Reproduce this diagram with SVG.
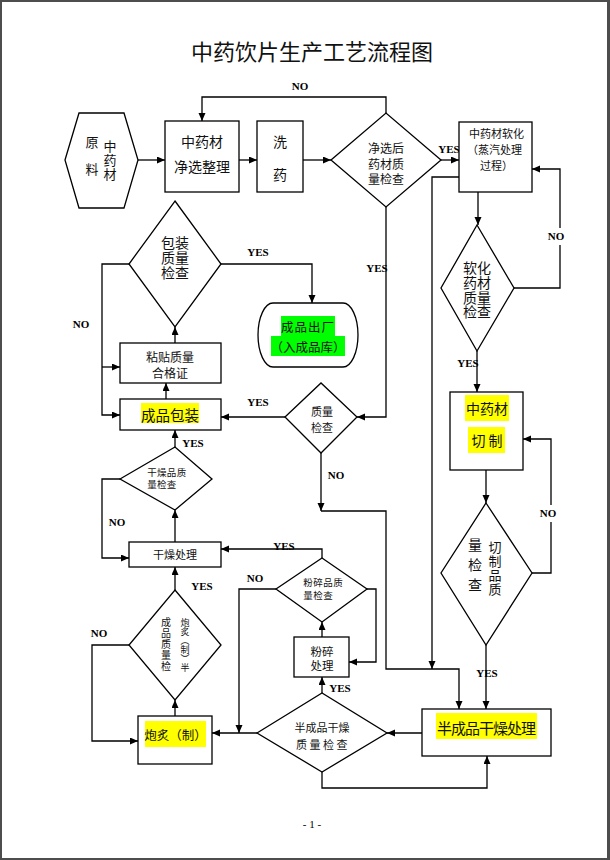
<svg xmlns="http://www.w3.org/2000/svg" width="610" height="860" viewBox="0 0 610 860">
<style>
.cn{font-family:"Noto Sans CJK SC","Noto Sans CJK JP",sans-serif;fill:#111;}
.c{text-anchor:middle;dominant-baseline:central;}
.s{dominant-baseline:central;}
.v{writing-mode:vertical-rl;text-anchor:middle;}
.lb{font-family:"Liberation Serif",serif;font-weight:bold;font-size:11px;fill:#000;text-anchor:middle;dominant-baseline:central;}
.sh{fill:#fff;stroke:#000;stroke-width:1.3;}
.ln{fill:none;stroke:#000;stroke-width:1.3;}
.ar{marker-end:url(#a);}
</style>
<defs>
<marker id="a" markerUnits="userSpaceOnUse" markerWidth="9" markerHeight="8" refX="8" refY="3.5" orient="auto">
<path d="M0,0 L8,3.5 L0,7 z" fill="#000"/>
</marker>
</defs>
<rect width="610" height="860" fill="#fff"/>
<g id="frame" fill="#4d4d4d">
<rect x="0" y="0" width="610" height="2"/>
<rect x="0" y="0" width="2" height="860"/>
<rect x="607" y="0" width="3" height="860"/>
<rect x="0" y="858" width="610" height="2"/>
</g>
<text class="cn c" x="312" y="50" font-size="22">中药饮片生产工艺流程图</text>

<g id="connectors">
<path class="ln ar" d="M138,160 H165"/>
<path class="ln ar" d="M239,160 H257"/>
<path class="ln ar" d="M303,160 H331"/>
<path class="ln ar" d="M386,113 V97 H202 V121"/>
<path class="ln ar" d="M441,160 H459"/>
<path class="ln ar" d="M478,192 V225"/>
<path class="ln ar" d="M514,288 H560 V169 H532"/>
<path class="ln ar" d="M459,177 H432 V669"/>
<path class="ln ar" d="M477,351 V392"/>
<path class="ln ar" d="M486,470 V503"/>
<path class="ln ar" d="M532,573 H551 V439 H523"/>
<path class="ln ar" d="M486,645 V709"/>
<path class="ln ar" d="M386,207 V417 H357"/>
<path class="ln ar" d="M285,417 H221"/>
<path class="ln ar" d="M321,453 V511"/>
<path class="ln ar" d="M321,511 H386 V669 H459 V709"/>
<path class="ln ar" d="M166,399 V383"/>
<path class="ln ar" d="M175,343 V327"/>
<path class="ln ar" d="M221,264 H312 V303"/>
<path class="ln ar" d="M129,264 H102 V415 H120"/>
<path class="ln ar" d="M102,367 H120"/>
<path class="ln ar" d="M175,447 V430"/>
<path class="ln ar" d="M175,542 V510"/>
<path class="ln ar" d="M120,479 H102 V558 H129"/>
<path class="ln ar" d="M322,558 V549 H221"/>
<path class="ln ar" d="M276,589 H239 V733"/>
<path class="ln ar" d="M367,589 H376 V662 H349"/>
<path class="ln ar" d="M322,637 V622"/>
<path class="ln ar" d="M322,693 V677"/>
<path class="ln ar" d="M422,733 H387"/>
<path class="ln ar" d="M257,733 H212"/>
<path class="ln ar" d="M322,772 V788 H487 V756"/>
<path class="ln ar" d="M175,716 V700"/>
<path class="ln ar" d="M175,590 V567"/>
<path class="ln ar" d="M129,645 H92 V741 H138"/>
</g>

<g id="labels">
<text class="lb" x="300" y="86">NO</text>
<text class="lb" x="449" y="149">YES</text>
<rect x="547" y="228" width="18" height="17" fill="#fff"/>
<text class="lb" x="556" y="236">NO</text>
<text class="lb" x="377" y="268">YES</text>
<text class="lb" x="258" y="252">YES</text>
<text class="lb" x="81" y="324">NO</text>
<text class="lb" x="258" y="402">YES</text>
<text class="lb" x="468" y="363">YES</text>
<text class="lb" x="193" y="443">YES</text>
<text class="lb" x="336" y="475">NO</text>
<text class="lb" x="117" y="522">NO</text>
<rect x="540" y="505" width="18" height="17" fill="#fff"/>
<text class="lb" x="548" y="513">NO</text>
<text class="lb" x="284" y="546">YES</text>
<text class="lb" x="255" y="578">NO</text>
<text class="lb" x="202" y="586">YES</text>
<text class="lb" x="99" y="633">NO</text>
<text class="lb" x="340" y="688">YES</text>
<text class="lb" x="487" y="673">YES</text>
</g>

<g id="n-raw">
<polygon class="sh" points="65,160 79,113 124,113 138,160 124,208 79,208"/>
<text class="cn v" x="92" y="163" font-size="13" letter-spacing="14">原料</text>
<text class="cn v" x="110" y="161" font-size="13" letter-spacing="1">中药材</text>
</g>
<g id="n-select">
<rect class="sh" x="165" y="121" width="74" height="71"/>
<text class="cn c" font-size="14"><tspan x="202" y="141">中药材</tspan><tspan x="202" y="166">净选整理</tspan></text>
</g>
<g id="n-wash">
<rect class="sh" x="257" y="121" width="46" height="71"/>
<text class="cn c" font-size="14"><tspan x="280" y="141">洗</tspan><tspan x="280" y="174">药</tspan></text>
</g>
<g id="n-check1">
<polygon class="sh" points="331,160 386,113 441,160 386,207"/>
<text class="cn c" font-size="12" x="374 386 398 374 386 398 374 386 398" y="147 147 147 163 163 163 178 178 178">净选后药材质量检查</text>
</g>
<g id="n-soften">
<rect class="sh" x="459" y="122" width="73" height="70"/>
<text class="cn s" font-size="11"><tspan x="469" y="133">中药材软化</tspan><tspan x="467" y="149">（蒸汽处理</tspan><tspan x="480" y="165">过程）</tspan></text>
</g>
<g id="n-check-soft">
<polygon class="sh" points="477,225 514,288 477,351 441,288"/>
<text class="cn c" font-size="14" x="470 484 470 484 470 484 470 484" y="267 267 282 282 297 297 311 311">软化药材质量检查</text>
</g>
<g id="n-cut">
<rect class="sh" x="450" y="392" width="73" height="78"/>
<rect x="465" y="395" width="44" height="26" fill="#ffff00"/>
<rect x="468" y="427" width="37" height="26" fill="#ffff00"/>
<text class="cn c" font-size="14"><tspan x="487" y="408">中药材</tspan><tspan x="487" y="440">切 制</tspan></text>
</g>
<g id="n-check-cut">
<polygon class="sh" points="486,503 532,573 486,645 441,573"/>
<text class="cn v" x="475" y="568" font-size="14" letter-spacing="6">量检查</text>
<text class="cn v" x="495" y="569" font-size="13" letter-spacing="1">切制品质</text>
</g>
<g id="n-semidry">
<rect class="sh" x="422" y="709" width="129" height="47"/>
<rect x="436" y="713" width="101" height="26" fill="#ffff00"/>
<text class="cn c" x="486.5" y="727" font-size="15" textLength="99">半成品干燥处理</text>
</g>
<g id="n-check-semidry">
<polygon class="sh" points="257,733 322,693 387,733 322,772"/>
<text class="cn c" font-size="11"><tspan x="322" y="727">半成品干燥</tspan><tspan x="323" y="744" letter-spacing="2.5">质量检查</tspan></text>
</g>
<g id="n-crush">
<rect class="sh" x="294" y="637" width="55" height="40"/>
<text class="cn c" font-size="11.5" x="316.25 327.75 316.25 327.75" y="651 651 665 665">粉碎处理</text>
</g>
<g id="n-check-crush">
<polygon class="sh" points="276,589 322,558 367,589 322,622"/>
<text class="cn c" font-size="9.5" x="308 318 328 338 308 318 328" y="582 582 582 582 595 595 595">粉碎品质量检查</text>
</g>
<g id="n-roast">
<rect class="sh" x="138" y="716" width="74" height="48"/>
<rect x="145" y="721" width="61" height="26" fill="#ffff00"/>
<text class="cn c" x="175.5" y="734" font-size="12.5">炮炙（制）</text>
</g>
<g id="n-check-roast">
<polygon class="sh" points="175,590 221,645 175,700 129,645"/>
<text class="cn v" x="166" y="645" font-size="10" letter-spacing="1">成品质量检</text>
<text class="cn v" x="185" y="645" font-size="9">炮炙（制）半</text>
</g>
<g id="n-dry">
<rect class="sh" x="129" y="542" width="92" height="25"/>
<text class="cn c" x="175" y="554" font-size="11">干燥处理</text>
</g>
<g id="n-check-dry">
<polygon class="sh" points="120,479 175,447 212,479 175,510"/>
<text class="cn c" font-size="9.5" x="152 161.8 171.6 181.4 152 161.8 171.6" y="472 472 472 472 484 484 484">干燥品质量检查</text>
</g>
<g id="n-check-quality">
<polygon class="sh" points="285,417 321,383 357,417 321,453"/>
<text class="cn c" font-size="11"><tspan x="322" y="411">质量</tspan><tspan x="322" y="427">检查</tspan></text>
</g>
<g id="n-pack">
<rect class="sh" x="120" y="399" width="101" height="31"/>
<rect x="141" y="403" width="58" height="20" fill="#ffff00"/>
<text class="cn c" x="170" y="414" font-size="14.5">成品包装</text>
</g>
<g id="n-label">
<rect class="sh" x="120" y="343" width="101" height="40"/>
<text class="cn c" font-size="12"><tspan x="170" y="356">粘贴质量</tspan><tspan x="170" y="372">合格证</tspan></text>
</g>
<g id="n-check-pack">
<polygon class="sh" points="175,201 221,264 175,327 129,264"/>
<text class="cn c" font-size="14" x="168 182 168 182 168 182" y="242 242 257 257 272 272">包装质量检查</text>
</g>
<g id="n-out">
<path class="sh" d="M273,303 H343 A15,32 0 0 1 343,367 H273 A15,32 0 0 1 273,303 Z"/>
<rect x="281" y="316" width="54" height="20" fill="#00ff00"/>
<rect x="271" y="336" width="74" height="20" fill="#00ff00"/>
<text class="cn c" font-size="12.5"><tspan x="308" y="326" letter-spacing="1">成品出厂</tspan><tspan x="308" y="346">（入成品库）</tspan></text>
</g>
<text x="312" y="828" font-family="Liberation Serif, serif" font-size="11" text-anchor="middle" fill="#000">- 1 -</text>
</svg>
